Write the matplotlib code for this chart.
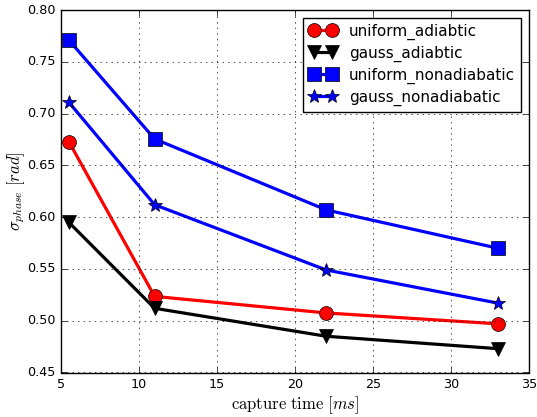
import matplotlib
matplotlib.use("Agg")
import matplotlib.pyplot as plt

plt.style.use("classic")
plt.rcParams["mathtext.fontset"] = "cm"

capture_time = [5.5, 11, 22, 33]
uniform_adiabtic = [0.673, 0.5235, 0.5075, 0.497]
gauss_adiabtic = [0.595, 0.512, 0.485, 0.473]
uniform_nonadiabatic = [0.771, 0.6755, 0.607, 0.570]
gauss_nonadiabatic = [0.711, 0.612, 0.549, 0.517]

fig = plt.figure(figsize=(5.37, 4.17), dpi=100)
ax = fig.add_axes([61 / 537, 44.5 / 417, 468 / 537, 362.5 / 417])

ax.plot(capture_time, uniform_adiabtic, "r-o", lw=2.3, ms=10, label="uniform_adiabtic")
ax.plot(capture_time, gauss_adiabtic, "k-v", lw=2.3, ms=10, label="gauss_adiabtic")
ax.plot(capture_time, uniform_nonadiabatic, "b-s", lw=2.3, ms=10, label="uniform_nonadiabatic")
ax.plot(capture_time, gauss_nonadiabatic, "b-*", lw=2.3, ms=10, label="gauss_nonadiabatic")

ax.set_xlim(5, 35)
ax.set_ylim(0.45, 0.80)
ax.grid(True)
ax.tick_params(labelsize=9.2)
ax.set_xlabel(r"$\mathrm{capture\ time}\ [ms]$", fontsize=12, labelpad=2)
ax.set_ylabel(r"$\sigma_{phase}\ [rad]$", fontsize=12, labelpad=0)
ax.legend(loc="upper right", fontsize=11, numpoints=2, handlelength=1.8,
          labelspacing=0.38)

fig.savefig("out.png", dpi=100)
